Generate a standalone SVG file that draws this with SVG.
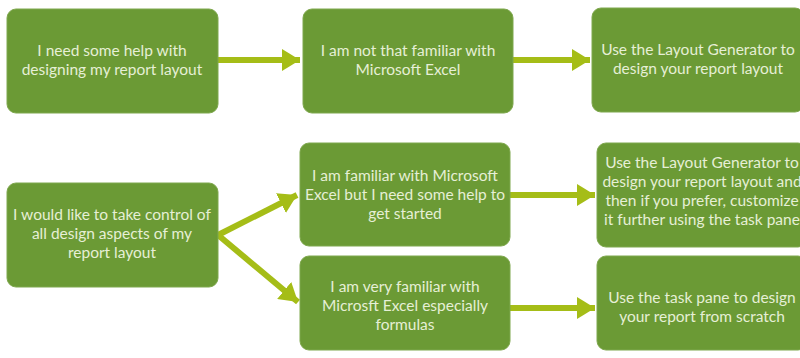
<svg xmlns="http://www.w3.org/2000/svg" width="800" height="358" viewBox="0 0 800 358">
<defs>
<style>
.box{fill:#6b9a35;stroke:#7fa84e;stroke-width:1}
.t{font-family:Lato,"Open Sans","Liberation Sans",sans-serif;font-size:15.5px;fill:#e6efd6;text-anchor:middle}
.c{stroke:#a5bd17;stroke-width:6;fill:none}
</style>
<marker id="ah" markerUnits="userSpaceOnUse" markerWidth="20" markerHeight="22" refX="18" refY="11" orient="auto">
<path d="M0,0 L18,11 L0,22 Z" fill="#a5bd17"/>
</marker>
</defs>
<rect width="800" height="358" fill="#ffffff"/>
<g id="connectors">
<line class="c" x1="218" y1="60" x2="300" y2="60" marker-end="url(#ah)"/>
<line class="c" x1="513" y1="60" x2="590" y2="60" marker-end="url(#ah)"/>
<line class="c" x1="218" y1="235" x2="297" y2="195" marker-end="url(#ah)"/>
<line class="c" x1="218" y1="235" x2="298" y2="302" marker-end="url(#ah)"/>
<line class="c" x1="510" y1="195" x2="595" y2="195" marker-end="url(#ah)"/>
<line class="c" x1="510" y1="308" x2="595" y2="308" marker-end="url(#ah)"/>
</g>
<g id="n1">
<rect class="box" x="7" y="9" width="211" height="104" rx="9"/>
<text class="t" x="112" y="56">I need some help with</text>
<text class="t" x="112" y="75">designing my report layout</text>
</g>
<g id="n2">
<rect class="box" x="303" y="9" width="210" height="104" rx="9"/>
<text class="t" x="408" y="56">I am not that familiar with</text>
<text class="t" x="408" y="75">Microsoft Excel</text>
</g>
<g id="n3">
<rect class="box" x="592" y="8" width="212" height="104" rx="9"/>
<text class="t" x="698" y="55">Use the Layout Generator to</text>
<text class="t" x="698" y="74">design your report layout</text>
</g>
<g id="n4">
<rect class="box" x="7" y="183" width="211" height="104" rx="9"/>
<text class="t" x="112" y="220">I would like to take control of</text>
<text class="t" x="112" y="239">all design aspects of my</text>
<text class="t" x="112" y="258">report layout</text>
</g>
<g id="n5">
<rect class="box" x="300" y="143" width="210" height="103" rx="9"/>
<text class="t" x="405" y="181">I am familiar with Microsoft</text>
<text class="t" x="405" y="200">Excel but I need some help to</text>
<text class="t" x="405" y="219">get started</text>
</g>
<g id="n6">
<rect class="box" x="300" y="256" width="210" height="94" rx="9"/>
<text class="t" x="405" y="292">I am very familiar with</text>
<text class="t" x="405" y="311">Microsft Excel especially</text>
<text class="t" x="405" y="330">formulas</text>
</g>
<g id="n7">
<rect class="box" x="597" y="143" width="210" height="104" rx="9"/>
<text class="t" x="702" y="168">Use the Layout Generator to</text>
<text class="t" x="702" y="187">design your report layout and</text>
<text class="t" x="702" y="206">then if you prefer, customize</text>
<text class="t" x="702" y="225">it further using the task pane</text>
</g>
<g id="n8">
<rect class="box" x="597" y="256" width="210" height="94" rx="9"/>
<text class="t" x="702" y="303">Use the task pane to design</text>
<text class="t" x="702" y="322">your report from scratch</text>
</g>
</svg>
